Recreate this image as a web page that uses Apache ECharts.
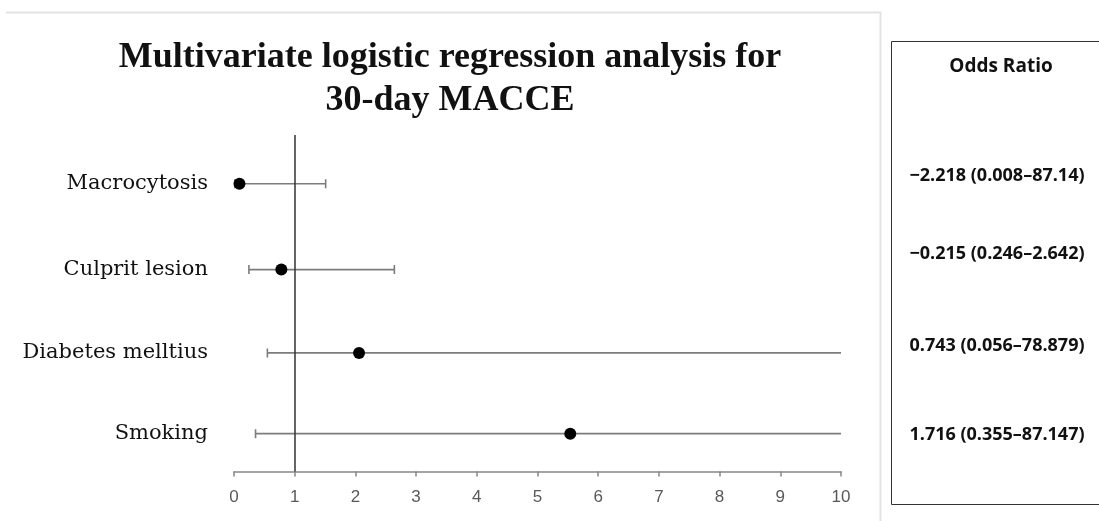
<!DOCTYPE html>
<html>
<head>
<meta charset="UTF-8" />
<title>Multivariate logistic regression</title>
<script src="https://cdn.jsdelivr.net/npm/echarts@6/dist/echarts.min.js"></script>
<style type="text/css">
body{
	margin: 0px;
	background-color: #fff;
}
#chart{
	width: 1099px;
	height: 521px;
}
</style>
</head>
<body>

<div id="chart"></div>

<script type="text/javascript">

// rows, top to bottom
var variables = ['Macrocytosis', 'Culprit lesion', 'Diabetes melltius', 'Smoking'];
var rowPos = [3.42, 2.40, 1.41, 0.45];
var oddsPoint = [0.09, 0.78, 2.06, 5.54];
var ciLow = [0.008, 0.246, 0.55, 0.355];
var ciHigh = [1.51, 2.642, 78.879, 87.147];
var oddsText = ['\u22122.218 (0.008\u201387.14)', '\u22120.215 (0.246\u20132.642)', '0.743 (0.056\u201378.879)', '1.716 (0.355\u201387.147)'];
var textRowY = [176, 254, 346, 435];
var xMax = 10;

var barData = [];
var pointData = [];
for(var i = 0; i < variables.length; i++){
	barData.push([ciLow[i], ciHigh[i], rowPos[i]]);
	pointData.push([oddsPoint[i], rowPos[i]]);
}

function renderBar(params, api){
	var lo = api.value(0), hi = api.value(1), y = api.value(2);
	var a = api.coord([lo, y]);
	var b = api.coord([Math.min(hi, xMax), y]);
	var st = {stroke: '#7c7c7c', lineWidth: 1.6};
	var kids = [
		{type: 'line', shape: {x1: a[0], y1: a[1], x2: b[0], y2: b[1]}, style: st},
		{type: 'line', shape: {x1: a[0], y1: a[1] - 4.5, x2: a[0], y2: a[1] + 4.5}, style: st}
	];
	if(hi <= xMax){
		kids.push({type: 'line', shape: {x1: b[0], y1: b[1] - 4.5, x2: b[0], y2: b[1] + 4.5}, style: st});
	}
	return {type: 'group', children: kids};
}

var graphics = [
	{type: 'polyline', shape: {points: [[6, 12.5], [880.5, 12.5], [880.5, 521]]},
		style: {stroke: '#e3e3e3', lineWidth: 2, fill: null}, silent: true},
	{type: 'rect', shape: {x: 891.5, y: 41.5, width: 240, height: 463},
		style: {stroke: '#333', lineWidth: 1, fill: null}, silent: true},
	{type: 'text', x: 1001, y: 67, style: {text: 'Odds Ratio', fill: '#111',
		font: 'bold 19px "Open Sans"', textAlign: 'center', textVerticalAlign: 'middle'}}
];
for(var j = 0; j < oddsText.length; j++){
	graphics.push({type: 'text', x: 997, y: textRowY[j], style: {text: oddsText[j], fill: '#111',
		font: 'bold 18px "Open Sans"', textAlign: 'center', textVerticalAlign: 'middle'}});
}

var option = {
	animation: false,
	title: {
		text: 'Multivariate logistic regression analysis for\n30-day MACCE',
		left: 445,
		top: 31,
		textAlign: 'center',
		textStyle: {
			fontFamily: '"Liberation Serif"',
			fontWeight: 'bold',
			fontSize: 36,
			lineHeight: 43,
			color: '#111'
		}
	},
	grid: {left: 234, right: 258, top: 135, bottom: 49.5},
	xAxis: {
		type: 'value',
		min: 0,
		max: xMax,
		interval: 1,
		axisLine: {lineStyle: {color: '#868686', width: 1.5}},
		axisTick: {show: true, length: 5, lineStyle: {color: '#868686', width: 1.5}},
		splitLine: {show: false},
		axisLabel: {color: '#595959', fontFamily: '"Liberation Sans"', fontSize: 17, margin: 17}
	},
	yAxis: {
		type: 'value',
		min: 0,
		max: 4,
		axisLine: {show: false},
		axisTick: {show: false},
		splitLine: {show: false},
		axisLabel: {
			customValues: rowPos,
			margin: 26,
			color: '#111',
			fontFamily: '"DejaVu Serif"',
			fontSize: 21,
			formatter: function(v){
				var k = rowPos.indexOf(v);
				return k >= 0 ? variables[k] : '';
			}
		}
	},
	graphic: graphics,
	series: [
		{
			type: 'custom',
			renderItem: renderBar,
			data: barData,
			clip: true,
			encode: {x: [0, 1], y: 2},
			z: 2
		},
		{
			type: 'scatter',
			data: pointData,
			symbol: 'circle',
			symbolSize: 12,
			clip: false,
			itemStyle: {color: '#000', opacity: 1},
			z: 4,
			markLine: {
				silent: true,
				symbol: 'none',
				label: {show: false},
				lineStyle: {color: '#333', width: 1.5, type: 'solid'},
				data: [{xAxis: 1}]
			}
		}
	]
};

var myChart = echarts.init(document.getElementById('chart'));
myChart.setOption(option);

</script>

</body>
</html>
